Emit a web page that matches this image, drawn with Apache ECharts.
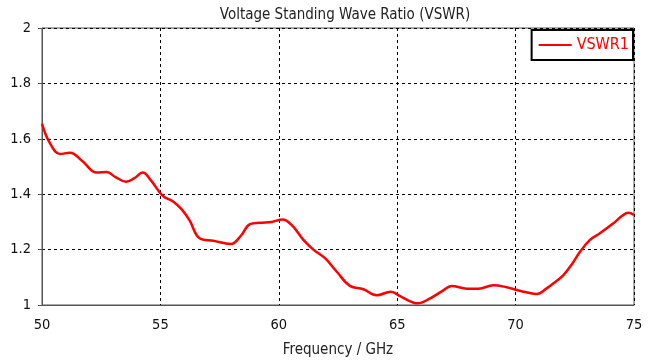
<!DOCTYPE html>
<html><head><meta charset="utf-8">
<script src="https://cdn.jsdelivr.net/npm/echarts@6/dist/echarts.min.js"></script>
<style>html,body{margin:0;padding:0;background:#fff}#c{width:653px;height:360px}</style>
</head><body><div id="c"></div>
<script>
const freq = [50, 50.3, 50.76, 51.18, 51.7, 52.31, 52.73, 53.1, 53.55, 53.9, 54.25, 54.6, 55.1, 55.55, 55.9, 56.22, 56.67, 57.23, 57.97, 58.4, 58.78, 59.2, 59.7, 60.16, 60.54, 61.04, 61.46, 61.95, 62.45, 63.0, 63.57, 64.13, 64.73, 65.12, 65.5, 65.85, 66.39, 66.9, 67.3, 67.94, 68.43, 69.06, 69.62, 70.05, 70.5, 70.89, 71.31, 71.7, 72.02, 72.4, 72.72, 73.14, 73.56, 74.13, 74.5, 74.76, 75];
const vswr = [1.655, 1.59, 1.545, 1.55, 1.52, 1.478, 1.48, 1.462, 1.445, 1.458, 1.478, 1.45, 1.394, 1.373, 1.345, 1.307, 1.24, 1.232, 1.22, 1.25, 1.292, 1.297, 1.30, 1.309, 1.289, 1.235, 1.20, 1.169, 1.12, 1.069, 1.057, 1.035, 1.048, 1.032, 1.015, 1.006, 1.024, 1.05, 1.069, 1.059, 1.059, 1.071, 1.064, 1.054, 1.045, 1.04, 1.06, 1.085, 1.108, 1.15, 1.192, 1.235, 1.259, 1.295, 1.322, 1.333, 1.325];
const titleText = 'Voltage Standing Wave Ratio (VSWR)';
const xName = 'Frequency / GHz';
const seriesName = 'VSWR1';

const chart = echarts.init(document.getElementById('c'), null, {renderer: 'canvas'});
const font = '"DejaVu Sans Condensed", "DejaVu Sans", sans-serif';
chart.setOption({
  animation: false,
  textStyle: {fontFamily: font},
  title: {text: titleText, left: 340, textAlign: 'center', top: 3, textStyle: {fontFamily: font, fontSize: 15, fontWeight: 'normal', color: '#222'}},
  grid: {left: 42, right: 19, top: 28, bottom: 55, show: true, borderColor: '#555', borderWidth: 1, outerBoundsMode: 'none', containLabel: false},
  legend: {
    data: [{name: seriesName, icon: 'rect', itemStyle: {color: '#ff0000'}}],
    right: 20, top: 30, orient: 'vertical',
    itemWidth: 33, itemHeight: 2, itemGap: 0,
    borderColor: '#000', borderWidth: 2, borderRadius: 0,
    padding: [7, 4, 7, 7],
    textStyle: {color: '#ff0000', fontSize: 16, fontFamily: font}
  },
  xAxis: {
    type: 'value', min: 50, max: 75, interval: 5,
    name: xName, nameLocation: 'middle', nameGap: 38,
    nameTextStyle: {fontSize: 15, color: '#222', fontFamily: font},
    axisLine: {lineStyle: {color: '#555'}},
    axisTick: {show: false},
    axisLabel: {fontSize: 14.5, color: '#111', margin: 13},
    splitLine: {show: true, lineStyle: {color: '#000', type: [3, 3], width: 1}}
  },
  yAxis: {
    type: 'value', min: 1, max: 2, interval: 0.2,
    axisLine: {show: true, lineStyle: {color: '#555'}},
    axisTick: {show: true, length: 4, lineStyle: {color: '#555'}},
    axisLabel: {fontSize: 14.5, color: '#111', margin: 11, formatter: v => String(+v.toFixed(1))},
    splitLine: {show: true, lineStyle: {color: '#000', type: [3, 3], width: 1}}
  },
  series: [{
    name: seriesName, type: 'line', smooth: 0.4, showSymbol: false,
    data: freq.map((f, i) => [f, vswr[i]]),
    lineStyle: {color: '#ff0000', width: 2.5},
    itemStyle: {color: '#ff0000'}
  }]
});
</script></body></html>
